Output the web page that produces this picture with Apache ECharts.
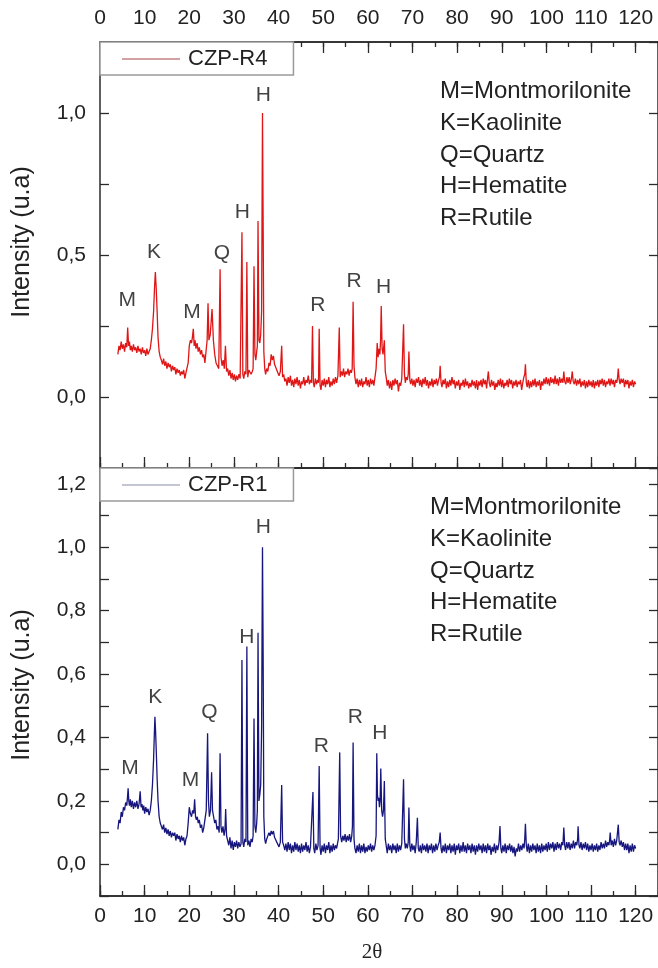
<!DOCTYPE html>
<html>
<head>
<meta charset="utf-8">
<script src="https://cdn.jsdelivr.net/npm/echarts@6/dist/echarts.min.js"></script>
<style>
  html, body { margin: 0; padding: 0; background: #fff; }
  #main { width: 658px; height: 968px; }
</style>
</head>
<body>
<div id="main"></div>
<script>
// 2theta / intensity pairs, CZP-R4 (top panel)
var r4Data = [
  [4.0,.15],[4.25,.18],[4.5,.165],[4.75,.195],[5.0,.17],[5.25,.185],[5.5,.16],[5.75,.19],[6.0,.175],[6.2,.245],
  [6.4,.18],[6.6,.195],[6.8,.165],[7.0,.18],[7.25,.16],[7.5,.185],[7.75,.165],[8.0,.175],[8.25,.155],[8.5,.18],
  [8.75,.16],[9.0,.17],[9.25,.15],[9.5,.175],[9.75,.155],[10.0,.165],[10.25,.145],[10.5,.17],[10.75,.15],[11.0,.16],
  [11.25,.17],[11.5,.2],[11.75,.24],[12.0,.3],[12.2,.38],[12.4,.44],[12.6,.38],[12.8,.3],[13.0,.21],[13.25,.16],
  [13.5,.14],[13.75,.13],[14.0,.115],[14.25,.135],[14.5,.11],[14.75,.125],[15.0,.1],[15.25,.12],[15.5,.105],[15.75,.115],
  [16.0,.09],[16.25,.11],[16.5,.095],[16.75,.105],[17.0,.08],[17.25,.1],[17.5,.085],[17.75,.095],[18.0,.075],[18.25,.09],
  [18.5,.08],[18.75,.095],[19.0,.065],[19.25,.085],[19.5,.08],[19.75,.12],[20.0,.18],[20.25,.2],[20.5,.19],[20.7,.21],
  [20.9,.24],[21.1,.18],[21.3,.2],[21.5,.17],[21.75,.19],[22.0,.16],[22.25,.175],[22.5,.15],[22.75,.165],[23.0,.14],
  [23.25,.15],[23.5,.12],[23.75,.16],[24.0,.2],[24.2,.33],[24.4,.2],[24.7,.22],[25.1,.31],[25.4,.2],[25.7,.15],
  [26.0,.12],[26.3,.11],[26.6,.1],[26.9,.45],[27.1,.14],[27.35,.11],[27.6,.13],[27.85,.1],[28.1,.18],[28.35,.09],
  [28.6,.1],[28.85,.075],[29.1,.095],[29.35,.065],[29.6,.085],[29.85,.06],[30.1,.08],[30.35,.055],[30.6,.075],[30.85,.06],
  [31.1,.08],[31.4,.065],[31.6,.07],[31.8,.58],[32.0,.08],[32.2,.065],[32.45,.09],[32.7,.08],[32.9,.475],[33.1,.07],
  [33.35,.095],[33.6,.1],[33.85,.08],[34.1,.09],[34.3,.1],[34.5,.46],[34.7,.15],[34.9,.13],[35.1,.16],[35.25,.18],
  [35.4,.62],[35.6,.2],[35.8,.19],[36.0,.22],[36.2,.3],[36.4,1.0],[36.55,.6],[36.7,.16],[36.9,.1],[37.1,.08],
  [37.35,.1],[37.6,.09],[37.85,.12],[38.1,.11],[38.35,.15],[38.6,.13],[38.85,.145],[39.1,.115],[39.35,.12],[39.6,.095],
  [39.85,.1],[40.1,.075],[40.4,.09],[40.7,.18],[40.9,.07],[41.15,.08],[41.4,.055],[41.65,.065],[41.9,.04],[42.15,.07],
  [42.4,.05],[42.65,.075],[42.9,.04],[43.15,.06],[43.4,.035],[43.65,.065],[43.9,.045],[44.15,.07],[44.4,.04],[44.65,.06],
  [44.9,.03],[45.15,.055],[45.4,.045],[45.65,.07],[45.9,.04],[46.15,.06],[46.4,.05],[46.65,.075],[46.9,.045],[47.15,.06],
  [47.4,.05],[47.6,.25],[47.8,.05],[48.0,.035],[48.25,.065],[48.5,.045],[48.75,.06],[48.95,.05],[49.1,.24],[49.3,.04],
  [49.5,.025],[49.75,.06],[50.0,.04],[50.25,.065],[50.5,.035],[50.75,.06],[51.0,.045],[51.25,.07],[51.5,.035],[51.75,.055],
  [52.0,.04],[52.25,.065],[52.5,.045],[52.75,.07],[53.0,.05],[53.3,.075],[53.6,.245],[53.8,.07],[54.05,.09],[54.3,.075],
  [54.55,.1],[54.8,.07],[55.05,.09],[55.3,.08],[55.55,.1],[55.8,.075],[56.05,.095],[56.3,.085],[56.5,.1],[56.7,.335],
  [56.9,.11],[57.1,.07],[57.35,.045],[57.6,.065],[57.85,.035],[58.1,.06],[58.35,.04],[58.6,.065],[58.85,.035],[59.1,.055],
  [59.35,.045],[59.6,.07],[59.85,.04],[60.1,.06],[60.35,.035],[60.6,.065],[60.85,.045],[61.1,.06],[61.35,.04],[61.6,.07],
  [61.85,.1],[62.1,.19],[62.3,.14],[62.5,.17],[62.7,.15],[62.85,.2],[63.0,.32],[63.2,.17],[63.4,.15],[63.7,.2],
  [63.9,.09],[64.1,.07],[64.35,.04],[64.6,.06],[64.85,.03],[65.1,.055],[65.35,.025],[65.6,.06],[65.85,.04],[66.1,.065],
  [66.35,.045],[66.6,.06],[66.85,.02],[67.1,.05],[67.35,.04],[67.6,.065],[67.85,.07],[68.0,.256],[68.2,.08],[68.4,.05],
  [68.6,.07],[68.85,.06],[69.05,.08],[69.2,.16],[69.4,.06],[69.6,.045],[69.85,.065],[70.1,.04],[70.35,.06],[70.6,.035],
  [70.85,.065],[71.1,.05],[71.35,.07],[71.6,.04],[71.85,.06],[72.1,.035],[72.35,.065],[72.6,.045],[72.85,.07],[73.1,.04],
  [73.35,.06],[73.6,.03],[73.85,.055],[74.1,.04],[74.35,.065],[74.6,.035],[74.85,.06],[75.1,.045],[75.35,.065],[75.6,.04],
  [75.85,.06],[76.05,.07],[76.2,.11],[76.4,.05],[76.6,.035],[76.85,.06],[77.1,.045],[77.35,.065],[77.6,.03],[77.85,.055],
  [78.1,.035],[78.35,.06],[78.6,.04],[78.85,.07],[79.1,.045],[79.35,.06],[79.6,.03],[79.85,.055],[80.1,.04],[80.35,.06],
  [80.6,.025],[80.85,.05],[81.1,.04],[81.35,.06],[81.6,.035],[81.85,.065],[82.1,.04],[82.35,.055],[82.6,.03],[82.85,.05],
  [83.1,.035],[83.35,.06],[83.6,.04],[83.85,.055],[84.1,.03],[84.35,.06],[84.6,.025],[84.85,.055],[85.1,.04],[85.35,.06],
  [85.6,.035],[85.85,.065],[86.1,.045],[86.35,.06],[86.6,.03],[86.85,.07],[87.0,.09],[87.2,.05],[87.45,.035],[87.7,.06],
  [87.95,.04],[88.2,.055],[88.45,.025],[88.7,.05],[88.95,.035],[89.2,.06],[89.45,.04],[89.7,.065],[89.95,.035],[90.2,.06],
  [90.45,.03],[90.7,.05],[90.95,.04],[91.2,.06],[91.45,.035],[91.7,.065],[91.95,.045],[92.2,.06],[92.45,.03],[92.7,.055],
  [92.95,.04],[93.2,.06],[93.45,.035],[93.7,.055],[93.95,.045],[94.2,.06],[94.45,.025],[94.7,.05],[94.95,.07],[95.15,.08],
  [95.3,.115],[95.5,.05],[95.7,.035],[95.95,.06],[96.2,.03],[96.45,.055],[96.7,.035],[96.95,.06],[97.2,.04],[97.45,.065],
  [97.7,.035],[97.95,.055],[98.2,.04],[98.45,.06],[98.7,.025],[98.95,.055],[99.2,.04],[99.45,.065],[99.7,.045],[99.95,.07],
  [100.2,.045],[100.45,.065],[100.7,.04],[100.95,.07],[101.2,.05],[101.45,.065],[101.7,.045],[101.95,.075],[102.2,.045],[102.45,.065],
  [102.7,.04],[102.95,.07],[103.2,.05],[103.45,.065],[103.7,.05],[103.9,.09],[104.1,.055],[104.35,.045],[104.6,.07],[104.85,.05],
  [105.1,.07],[105.35,.045],[105.6,.065],[105.8,.09],[106.0,.055],[106.25,.045],[106.5,.065],[106.75,.04],[107.0,.06],[107.25,.045],
  [107.5,.065],[107.75,.035],[108.0,.055],[108.25,.04],[108.5,.06],[108.75,.03],[109.0,.055],[109.25,.035],[109.5,.06],[109.75,.04],
  [110.0,.055],[110.25,.035],[110.5,.06],[110.75,.03],[111.0,.055],[111.25,.04],[111.5,.06],[111.75,.035],[112.0,.06],[112.25,.045],
  [112.5,.065],[112.75,.04],[113.0,.06],[113.25,.035],[113.5,.055],[113.75,.045],[114.0,.065],[114.25,.04],[114.5,.065],[114.75,.045],
  [115.0,.06],[115.25,.035],[115.5,.06],[115.75,.05],[115.95,.07],[116.1,.1],[116.3,.06],[116.5,.045],[116.75,.065],[117.0,.05],
  [117.25,.065],[117.5,.035],[117.75,.06],[118.0,.045],[118.25,.06],[118.5,.03],[118.75,.055],[119.0,.04],[119.25,.06],[119.5,.035],
  [119.75,.055],[120.0,.045]
];

// CZP-R1 (bottom panel)
var r1Data = [
  [4.0,.11],[4.25,.14],[4.5,.13],[4.75,.165],[5.0,.15],[5.25,.18],[5.5,.17],[5.75,.195],[6.0,.185],[6.15,.21],
  [6.3,.24],[6.45,.2],[6.6,.185],[6.8,.205],[7.0,.18],[7.25,.2],[7.5,.175],[7.75,.195],[8.0,.18],[8.25,.2],
  [8.5,.175],[8.75,.19],[9.0,.23],[9.2,.18],[9.4,.19],[9.6,.17],[9.8,.185],[10.0,.16],[10.25,.18],[10.5,.165],
  [10.75,.175],[11.0,.155],[11.25,.17],[11.5,.2],[11.75,.25],[12.0,.33],[12.15,.4],[12.3,.465],[12.45,.42],[12.6,.36],
  [12.8,.27],[13.0,.2],[13.25,.15],[13.5,.13],[13.75,.12],[14.0,.11],[14.25,.125],[14.5,.1],[14.75,.115],[15.0,.095],
  [15.25,.11],[15.5,.09],[15.75,.105],[16.0,.085],[16.25,.1],[16.5,.09],[16.75,.1],[17.0,.075],[17.25,.095],[17.5,.08],
  [17.75,.09],[18.0,.07],[18.25,.09],[18.5,.075],[18.75,.085],[19.0,.06],[19.25,.08],[19.5,.09],[19.75,.13],[20.0,.18],
  [20.25,.16],[20.5,.15],[20.75,.17],[21.0,.16],[21.2,.205],[21.4,.15],[21.6,.14],[21.8,.15],[22.0,.13],[22.25,.14],
  [22.5,.115],[22.75,.125],[23.0,.1],[23.25,.115],[23.5,.12],[23.8,.17],[24.1,.413],[24.3,.2],[24.5,.15],[24.75,.17],
  [25.0,.29],[25.2,.17],[25.45,.15],[25.7,.13],[25.95,.14],[26.2,.11],[26.45,.12],[26.7,.1],[26.9,.35],[27.1,.12],
  [27.3,.1],[27.55,.12],[27.8,.09],[28.0,.11],[28.15,.174],[28.35,.09],[28.6,.085],[28.85,.06],[29.1,.085],[29.35,.05],
  [29.6,.075],[29.85,.045],[30.1,.07],[30.35,.055],[30.6,.075],[30.85,.05],[31.1,.07],[31.35,.055],[31.6,.065],[31.8,.644],
  [32.0,.07],[32.2,.055],[32.45,.08],[32.7,.07],[32.9,.687],[33.1,.06],[33.35,.075],[33.6,.055],[33.85,.08],[34.1,.07],
  [34.3,.09],[34.5,.46],[34.7,.12],[34.9,.1],[35.1,.13],[35.25,.17],[35.4,.73],[35.6,.2],[35.8,.22],[36.0,.25],
  [36.2,.43],[36.4,1.0],[36.55,.65],[36.7,.15],[36.9,.08],[37.1,.065],[37.35,.08],[37.6,.075],[37.85,.1],[38.1,.09],
  [38.35,.105],[38.6,.095],[38.85,.105],[39.1,.085],[39.35,.09],[39.6,.07],[39.85,.075],[40.1,.055],[40.4,.07],[40.7,.25],
  [40.9,.07],[41.15,.06],[41.4,.045],[41.65,.065],[41.9,.04],[42.15,.07],[42.4,.045],[42.65,.065],[42.9,.035],[43.15,.06],
  [43.4,.04],[43.65,.07],[43.9,.045],[44.15,.065],[44.4,.04],[44.65,.06],[44.9,.035],[45.15,.065],[45.4,.04],[45.65,.06],
  [45.9,.045],[46.15,.07],[46.4,.04],[46.65,.06],[46.9,.035],[47.15,.055],[47.45,.06],[47.7,.228],[47.9,.05],[48.1,.035],
  [48.35,.065],[48.6,.045],[48.85,.06],[49.1,.31],[49.3,.05],[49.5,.03],[49.75,.06],[50.0,.04],[50.25,.065],[50.5,.035],
  [50.75,.06],[51.0,.045],[51.25,.07],[51.5,.035],[51.75,.06],[52.0,.04],[52.25,.065],[52.5,.045],[52.75,.06],[53.0,.05],
  [53.2,.065],[53.4,.08],[53.7,.353],[53.9,.09],[54.15,.07],[54.4,.09],[54.65,.075],[54.9,.095],[55.15,.07],[55.4,.09],
  [55.65,.075],[55.9,.095],[56.15,.07],[56.4,.09],[56.55,.12],[56.7,.384],[56.9,.08],[57.1,.05],[57.35,.035],[57.6,.06],
  [57.85,.04],[58.1,.065],[58.35,.035],[58.6,.06],[58.85,.04],[59.1,.065],[59.35,.035],[59.6,.055],[59.85,.04],[60.1,.06],
  [60.35,.045],[60.6,.065],[60.85,.04],[61.1,.06],[61.35,.045],[61.6,.06],[61.85,.09],[62.0,.35],[62.15,.22],[62.3,.2],
  [62.45,.21],[62.6,.18],[62.75,.2],[62.9,.302],[63.1,.17],[63.3,.15],[63.5,.17],[63.7,.263],[63.9,.08],[64.1,.06],
  [64.35,.035],[64.6,.065],[64.85,.045],[65.1,.06],[65.35,.035],[65.6,.065],[65.85,.045],[66.1,.06],[66.35,.035],[66.6,.065],
  [66.85,.04],[67.1,.06],[67.35,.045],[67.6,.065],[67.85,.07],[68.0,.268],[68.2,.08],[68.4,.05],[68.6,.065],[68.85,.05],
  [69.05,.07],[69.2,.179],[69.4,.06],[69.6,.04],[69.85,.065],[70.1,.045],[70.35,.06],[70.6,.035],[70.85,.07],[71.1,.147],
  [71.3,.05],[71.5,.04],[71.75,.06],[72.0,.035],[72.25,.065],[72.5,.045],[72.75,.06],[73.0,.04],[73.25,.065],[73.5,.035],
  [73.75,.06],[74.0,.045],[74.25,.065],[74.5,.035],[74.75,.06],[75.0,.04],[75.25,.065],[75.5,.045],[75.75,.06],[76.0,.07],
  [76.2,.1],[76.4,.05],[76.6,.035],[76.85,.06],[77.1,.04],[77.35,.065],[77.6,.035],[77.85,.06],[78.1,.045],[78.35,.065],
  [78.6,.035],[78.85,.06],[79.1,.04],[79.35,.065],[79.6,.03],[79.85,.06],[80.1,.045],[80.35,.065],[80.6,.035],[80.85,.06],
  [81.1,.04],[81.35,.07],[81.6,.04],[81.85,.06],[82.1,.035],[82.35,.065],[82.6,.045],[82.85,.06],[83.1,.035],[83.35,.065],
  [83.6,.04],[83.85,.06],[84.1,.03],[84.35,.06],[84.6,.04],[84.85,.065],[85.1,.045],[85.35,.06],[85.6,.035],[85.85,.065],
  [86.1,.04],[86.35,.06],[86.6,.035],[86.85,.065],[87.1,.045],[87.35,.06],[87.6,.03],[87.85,.055],[88.1,.04],[88.35,.065],
  [88.6,.035],[88.85,.06],[89.1,.045],[89.4,.07],[89.6,.121],[89.8,.05],[90.0,.035],[90.25,.06],[90.5,.04],[90.75,.065],
  [91.0,.035],[91.25,.06],[91.5,.045],[91.75,.065],[92.0,.04],[92.25,.06],[92.5,.035],[92.75,.055],[93.0,.025],[93.25,.05],
  [93.5,.04],[93.75,.065],[94.0,.04],[94.25,.06],[94.5,.045],[94.75,.065],[95.0,.05],[95.15,.08],[95.3,.128],[95.5,.06],
  [95.7,.04],[95.95,.065],[96.2,.035],[96.45,.06],[96.7,.04],[96.95,.065],[97.2,.045],[97.45,.06],[97.7,.035],[97.95,.065],
  [98.2,.04],[98.45,.06],[98.7,.035],[98.95,.065],[99.2,.04],[99.45,.06],[99.7,.045],[99.95,.065],[100.2,.04],[100.45,.07],
  [100.7,.045],[100.95,.065],[101.2,.05],[101.45,.07],[101.7,.04],[101.95,.065],[102.2,.045],[102.45,.07],[102.7,.05],[102.95,.065],
  [103.2,.045],[103.45,.07],[103.7,.06],[103.9,.116],[104.1,.06],[104.3,.045],[104.55,.07],[104.8,.05],[105.05,.07],[105.3,.045],
  [105.55,.065],[105.8,.05],[106.05,.075],[106.3,.05],[106.55,.07],[106.8,.06],[107.0,.08],[107.1,.12],[107.3,.06],[107.5,.05],
  [107.75,.07],[108.0,.045],[108.25,.065],[108.5,.05],[108.75,.07],[109.0,.045],[109.25,.065],[109.5,.04],[109.75,.06],[110.0,.045],
  [110.25,.065],[110.5,.04],[110.75,.06],[111.0,.045],[111.25,.065],[111.5,.04],[111.75,.06],[112.0,.045],[112.25,.07],[112.5,.05],
  [112.75,.065],[113.0,.05],[113.25,.075],[113.5,.055],[113.75,.07],[114.0,.06],[114.15,.075],[114.3,.1],[114.5,.06],[114.75,.075],
  [115.0,.055],[115.25,.08],[115.5,.06],[115.75,.075],[115.95,.08],[116.1,.125],[116.3,.07],[116.5,.06],[116.75,.075],[117.0,.055],
  [117.25,.07],[117.5,.045],[117.75,.065],[118.0,.045],[118.25,.065],[118.5,.035],[118.75,.06],[119.0,.04],[119.25,.065],[119.5,.04],
  [119.75,.06],[120.0,.05]
];

// peak letters [2theta, intensity, letter]
var r4Peaks = [[6.1,.34,'M'],[12.1,.51,'K'],[20.6,.30,'M'],[27.3,.505,'Q'],[31.9,.65,'H'],[36.6,1.063,'H'],[48.8,.323,'R'],[56.9,.408,'R'],[63.5,.385,'H']];
var r1Peaks = [[6.7,.302,'M'],[12.4,.526,'K'],[20.3,.266,'M'],[24.5,.481,'Q'],[32.9,.716,'H'],[36.6,1.064,'H'],[49.6,.374,'R'],[57.2,.463,'R'],[62.7,.414,'H']];

var mineralKey = ['M=Montmorilonite', 'K=Kaolinite', 'Q=Quartz', 'H=Hematite', 'R=Rutile'];
var xMin = 0, xMax = 125;

var chart = echarts.init(document.getElementById('main'));
var FONT = 'Liberation Sans, Arial, sans-serif';
var axisCol = '#2a2a2a';

function comma(v) {
	return v.toFixed(1).replace('.', ',');
}

//x axis helper
function xAx(grid, pos, interval, tickLen, showLabel, showTick, margin) {
	return {
		type: 'value', gridIndex: grid, position: pos, min: xMin, max: xMax, interval: interval,
		axisLine: { show: true, onZero: false, lineStyle: { color: axisCol, width: 1.5 } },
		axisTick: { show: showTick, inside: true, length: tickLen, lineStyle: { color: axisCol, width: 1.3 } },
		axisLabel: { show: showLabel, showMaxLabel: false, margin: margin || 12, fontFamily: FONT, fontSize: 21, color: '#222' },
		splitLine: { show: false }
	};
}

function yAx(grid, pos, min, max, interval, showLabel, fmt) {
	return {
		type: 'value', gridIndex: grid, position: pos, min: min, max: max, interval: interval,
		axisLine: { show: true, onZero: false, lineStyle: { color: axisCol, width: 1.5 } },
		axisTick: { show: true, inside: true, length: 9, lineStyle: { color: axisCol, width: 1.3 } },
		axisLabel: { show: showLabel, margin: 14, fontFamily: FONT, fontSize: 21, color: '#222', formatter: fmt },
		splitLine: { show: false }
	};
}

var topFmt = function(v) {
	var q = Math.round(v * 4);
	return (q >= 0 && q <= 4 && q % 2 === 0) ? comma(q / 4) : '';
};
var botFmt = function(v) {
	var q = Math.round(v * 10);
	return (q >= 0 && q <= 12 && q % 2 === 0) ? comma(q / 10) : '';
};

//peak letters
function peakSeries(data, xi, yi) {
	return {
		type: 'scatter', xAxisIndex: xi, yAxisIndex: yi, data: data, silent: true,
		symbolSize: 1, itemStyle: { color: 'rgba(0,0,0,0)' },
		label: { show: true, position: 'inside', formatter: function(p) { return p.data[2]; }, fontFamily: FONT, fontSize: 21, color: '#111' },
		z: 5
	};
}

function legendBox(name, top, iconCol) {
	return {
		data: [{ name: name, icon: 'rect', itemStyle: { color: iconCol } }], left: 100, top: top, orient: 'horizontal',
		padding: [6, 26, 5, 22], itemWidth: 58, itemHeight: 1.2, itemGap: 8,
		backgroundColor: '#fff', borderColor: '#9a9a9a', borderWidth: 1.5, borderRadius: 0,
		textStyle: { fontFamily: FONT, fontSize: 22, color: '#222', padding: [0, 0, 0, 3] },
		selectedMode: false, z: 10
	};
}

var option = {
	backgroundColor: '#fff',
	animation: false,
	grid: [
		{ left: 100, top: 42, width: 561, height: 426 },
		{ left: 100, top: 468, width: 561, height: 428 }
	],
	legend: [legendBox('CZP-R4', 42, '#a8424a'), legendBox('CZP-R1', 468, '#8a8ca6')],
	xAxis: [
		xAx(0, 'top', 10, 11, true, true, 13),
		xAx(0, 'bottom', 10, 11, false, true),
		xAx(0, 'top', 5, 5, false, true),
		xAx(0, 'bottom', 5, 5, false, true),
		xAx(1, 'bottom', 10, 11, true, true, 10),
		xAx(1, 'bottom', 5, 5, false, true),
		xAx(1, 'top', 10, 0, false, false)
	],
	yAxis: [
		yAx(0, 'left', -0.25, 1.25, 0.25, true, topFmt),
		yAx(0, 'right', -0.25, 1.25, 0.25, false),
		yAx(1, 'left', -0.1, 1.25, 0.1, true, botFmt),
		yAx(1, 'right', -0.1, 1.25, 0.1, false)
	],
	series: [
		{
			name: 'CZP-R4', type: 'line', xAxisIndex: 0, yAxisIndex: 0, data: r4Data,
			symbol: 'none', lineStyle: { width: 1.3, color: '#e01515' }, itemStyle: { color: '#e01515' }
		},
		{
			name: 'CZP-R1', type: 'line', xAxisIndex: 4, yAxisIndex: 2, data: r1Data,
			symbol: 'none', lineStyle: { width: 1.3, color: '#16167e' }, itemStyle: { color: '#16167e' }
		},
		peakSeries(r4Peaks, 0, 0),
		peakSeries(r1Peaks, 4, 2)
	],
	graphic: [
		{ type: 'text', x: 22, y: 242, rotation: Math.PI / 2, style: { text: 'Intensity (u.a)', font: '25px ' + FONT, fill: '#222', textAlign: 'center', textVerticalAlign: 'middle' } },
		{ type: 'text', x: 22, y: 685, rotation: Math.PI / 2, style: { text: 'Intensity (u.a)', font: '25px ' + FONT, fill: '#222', textAlign: 'center', textVerticalAlign: 'middle' } },
		{ type: 'text', x: 440, y: 76, style: { text: mineralKey.join('\n'), font: '24px ' + FONT, lineHeight: 31.6, fill: '#222' } },
		{ type: 'text', x: 430, y: 492, style: { text: mineralKey.join('\n'), font: '24px ' + FONT, lineHeight: 31.6, fill: '#222' } },
		{ type: 'text', x: 372, y: 952, style: { text: '2θ', font: '21px Liberation Serif, Times New Roman, serif', fill: '#222', textAlign: 'center', textVerticalAlign: 'middle' } }
	]
};

chart.setOption(option);
</script>
</body>
</html>
